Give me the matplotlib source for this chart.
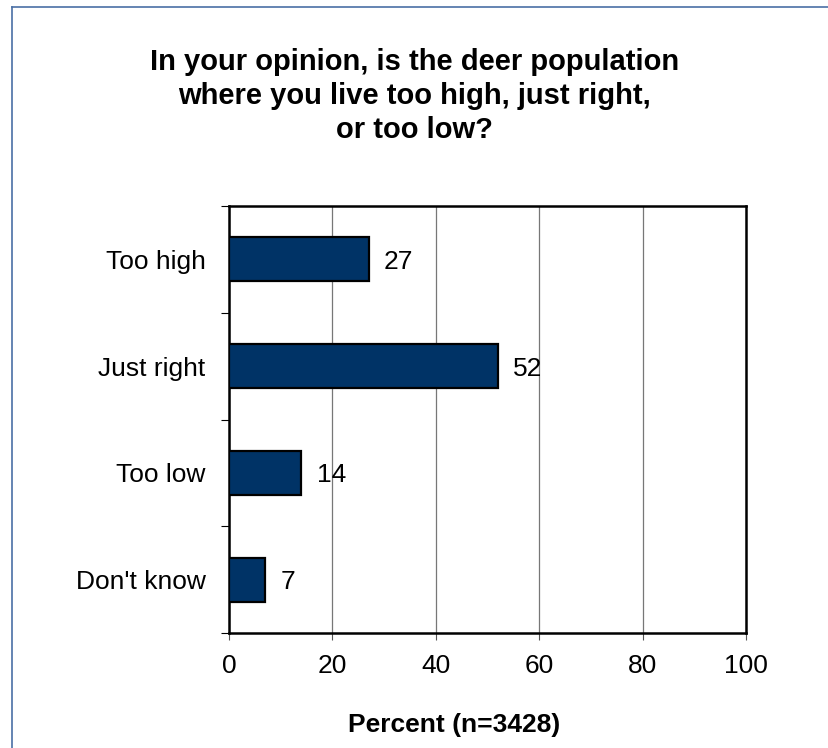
import matplotlib
matplotlib.use("Agg")
import matplotlib.pyplot as plt
from matplotlib.lines import Line2D
import numpy as np

categories = ["Too high", "Just right", "Too low", "Don't know"]
percent = [27, 52, 14, 7]
xticks = [0, 20, 40, 60, 80, 100]
title = "In your opinion, is the deer population\nwhere you live too high, just right,\nor too low?"
xlabel = "Percent (n=3428)"

BAR = "#003366"
plt.rcParams["font.family"] = ["Liberation Sans", "DejaVu Sans"]

fig = plt.figure(figsize=(8.29, 7.48), dpi=100)
ax = fig.add_axes([229 / 829, 1 - 633 / 748, (746 - 229) / 829, (633 - 206) / 748])

y = np.arange(len(categories))
ax.barh(y, percent, height=0.41, color=BAR, edgecolor="black", linewidth=1.6, zorder=3)
for yi, v in zip(y, percent):
    ax.annotate(str(v), (v, yi), xytext=(11, 0), textcoords="offset points",
                ha="left", va="center_baseline", fontsize=19, zorder=4)

ax.set_xlim(0, 100)
ax.set_ylim(len(categories) - 0.5, -0.5)
ax.set_xticks(xticks)
ax.set_xticklabels([str(t) for t in xticks], fontsize=19)
ax.tick_params(axis="x", length=5, width=0.8, color="#555555", pad=10)
ax.xaxis.grid(True, color="#777777", linewidth=0.9, zorder=0)

# category boundaries carry the ticks, labels sit at the centres
ax.set_yticks(np.arange(len(categories) + 1) - 0.5)
ax.set_yticklabels([])
ax.tick_params(axis="y", which="major", length=6, width=0.8)
ax.set_yticks(y, minor=True)
ax.set_yticklabels(categories, minor=True, fontsize=19)
ax.tick_params(axis="y", which="minor", length=0, pad=17)

for s in ax.spines.values():
    s.set_linewidth(1.8)

ax.set_xlabel(xlabel, fontsize=19, fontweight="bold", va="center")
ax.xaxis.set_label_coords((454 - 229) / 517, (633 - 725) / 427)
fig.text(0.5, 1 - 96 / 748, title, ha="center", va="center", fontsize=21,
         fontweight="bold", linespacing=1.27)

# frame at top and left of the image
fig.add_artist(Line2D([12 / 829, 12 / 829], [0, 1 - 7 / 748], transform=fig.transFigure,
                      color="#4a6fa5", linewidth=1.2))
fig.add_artist(Line2D([12 / 829, 1], [1 - 7 / 748, 1 - 7 / 748], transform=fig.transFigure,
                      color="#4a6fa5", linewidth=1.2))

fig.savefig("out.png", dpi=100)
